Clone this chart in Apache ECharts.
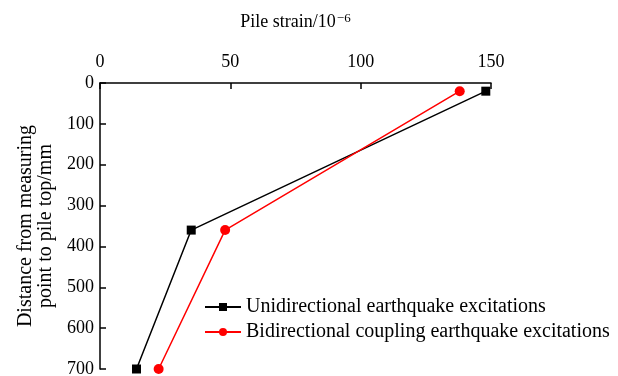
<!DOCTYPE html>
<html><head><meta charset="utf-8">
<script src="https://cdn.jsdelivr.net/npm/echarts@6/dist/echarts.min.js"></script>
<style>html,body{margin:0;padding:0;background:#fff}#c{width:618px;height:376px}</style>
</head><body><div id="c"></div>
<script>
const depths = [20, 360, 700];
const uniStrain = [148, 35, 14];
const biStrain = [138, 48, 22.5];
const seriesNames = ['Unidirectional earthquake excitations', 'Bidirectional coupling earthquake excitations'];
const xTicks = [0, 50, 100, 150];
const yTicks = [0, 100, 200, 300, 400, 500, 600, 700];

const font = 'Liberation Serif';
const chart = echarts.init(document.getElementById('c'));
chart.setOption({
  animation: false,
  backgroundColor: '#fff',
  textStyle: {fontFamily: font},
  grid: {left: 100, top: 83, right: 127, bottom: 7, containLabel: false, outerBoundsMode: 'none'},
  legend: {
    left: 204, top: 297, orient: 'vertical', itemGap: 5, padding: 0,
    itemWidth: 36, itemHeight: 10,
    textStyle: {fontFamily: font, fontSize: 20, color: '#000'},
    data: seriesNames
  },
  xAxis: {
    type: 'value', position: 'top', min: xTicks[0], max: xTicks[xTicks.length-1], interval: 50,
    name: 'Pile strain/10{s|−6}', nameLocation: 'middle', nameGap: 50,
    nameTextStyle: {fontFamily: font, fontSize: 18, color: '#000',
      rich: {s: {fontFamily: font, fontSize: 13, color: '#000', verticalAlign: 'top', padding: [0,0,8,1]}}},
    axisLine: {show: true, lineStyle: {color: '#000', width: 1.5}},
    axisTick: {show: true, inside: true, length: 6, lineStyle: {color: '#000', width: 1.5}},
    axisLabel: {fontFamily: font, fontSize: 18, color: '#000', margin: 12},
    splitLine: {show: false}
  },
  yAxis: {
    type: 'value', inverse: true, min: yTicks[0], max: yTicks[yTicks.length-1], interval: 100,
    name: 'Distance from measuring\npoint to pile top/mm', nameLocation: 'middle', nameGap: 41, nameRotate: 90,
    nameTextStyle: {fontFamily: font, fontSize: 20, color: '#000', lineHeight: 20, align: 'center'},
    axisLine: {show: true, lineStyle: {color: '#000', width: 1.5}},
    axisTick: {show: true, inside: true, length: 6, lineStyle: {color: '#000', width: 1.5}},
    axisLabel: {fontFamily: font, fontSize: 18, color: '#000', margin: 6},
    splitLine: {show: false}
  },
  series: [
    {name: seriesNames[0], type: 'line', data: depths.map((d,i)=>[uniStrain[i], d]),
     symbol: 'rect', symbolSize: 9, color: '#000',
     lineStyle: {color: '#000', width: 1.5}, itemStyle: {color: '#000'}},
    {name: seriesNames[1], type: 'line', data: depths.map((d,i)=>[biStrain[i], d]),
     symbol: 'circle', symbolSize: 10, color: '#ff0000',
     lineStyle: {color: '#ff0000', width: 1.5}, itemStyle: {color: '#ff0000'}}
  ]
});
</script></body></html>
